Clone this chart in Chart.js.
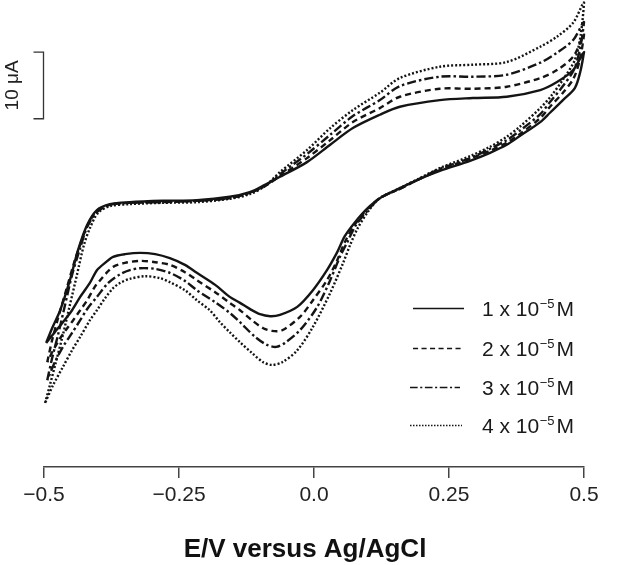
<!DOCTYPE html>
<html><head><meta charset="utf-8">
<script src="https://cdn.jsdelivr.net/npm/chart.js@4"></script>
<style>html,body{margin:0;padding:0;background:#fff}#wrap{width:622px;height:565px}</style>
</head><body><div id="wrap"><canvas id="c" width="622" height="565"></canvas></div>
<script>
// ---- data (E in V vs Ag/AgCl, I in µA, arbitrary offset) ----
const xTicks = [-0.5, -0.25, 0, 0.25, 0.5];
const xTickLabels = ['\u22120.5', '\u22120.25', '0.0', '0.25', '0.5'];
const concMantissa = ['1', '2', '3', '4'];
const concExponent = '\u22125';
const concUnit = 'M';
const scaleBarTop = 37.2;     // µA
const scaleBarSize = 10;      // µA

const E1 = [-0.496,-0.485,-0.470,-0.452,-0.437,-0.420,-0.402,-0.378,-0.341,-0.280,-0.217,-0.156,-0.119,-0.091,-0.063,-0.013,0.030,0.072,0.122,0.159,0.233,0.294,0.357,0.419,0.450,0.480,0.500,
  0.493,0.483,0.461,0.437,0.419,0.381,0.357,0.326,0.289,0.233,0.196,0.159,0.122,0.098,0.076,0.057,0.043,0.024,-0.002,-0.031,-0.063,-0.081,-0.100,-0.119,-0.137,-0.156,-0.183,-0.217,-0.239,-0.267,-0.294,-0.322,-0.350,-0.372,-0.387,-0.402,-0.415,-0.433,-0.448,-0.465,-0.480,-0.496];
const I1 = [-6.4,-4.2,-1.5,3.0,7.5,11.3,13.5,14.4,14.7,14.9,15.0,15.5,16.2,17.3,18.5,20.7,23.3,25.8,27.8,29.0,30.0,30.3,30.5,31.5,32.7,34.5,37.2,
  34.2,31.8,30.0,28.1,26.7,24.6,23.3,22.1,20.9,19.4,18.2,16.8,15.3,13.7,11.7,9.6,7.2,4.5,1.5,-1.0,-2.2,-2.4,-2.1,-1.3,-0.4,0.5,2.3,4.1,5.3,6.3,6.9,7.1,6.9,6.5,5.6,4.5,2.6,0.5,-1.5,-3.3,-4.8,-6.4];

const E2 = [-0.494,-0.485,-0.474,-0.459,-0.444,-0.433,-0.420,-0.402,-0.378,-0.341,-0.280,-0.217,-0.156,-0.119,-0.091,-0.063,-0.013,0.030,0.072,0.122,0.159,0.233,0.294,0.357,0.419,0.450,0.480,0.500,
  0.493,0.481,0.461,0.437,0.419,0.381,0.357,0.326,0.289,0.233,0.196,0.159,0.122,0.098,0.076,0.057,0.043,0.024,-0.002,-0.026,-0.059,-0.078,-0.094,-0.115,-0.137,-0.156,-0.183,-0.217,-0.239,-0.267,-0.294,-0.322,-0.350,-0.372,-0.383,-0.396,-0.406,-0.420,-0.433,-0.446,-0.457,-0.470,-0.483,-0.494];
const I2 = [-9.3,-6.0,-2.7,1.5,5.7,8.3,11.1,13.4,14.3,14.6,14.7,14.9,15.3,16.1,17.1,18.6,21.3,24.0,26.7,28.8,30.5,31.7,31.7,32.0,33.3,34.5,36.5,39.8,
  36.3,33.3,31.1,29.0,27.3,24.9,23.6,22.4,21.2,19.5,18.2,16.7,15.3,13.6,11.4,8.7,6.0,3.0,0.0,-2.5,-4.5,-4.6,-4.2,-3.0,-1.5,-0.4,1.2,3.0,4.2,5.3,5.7,5.9,5.6,5.0,4.2,3.0,2.0,0.0,-1.5,-3.0,-4.2,-5.7,-7.5,-9.3];

const E3 = [-0.494,-0.485,-0.474,-0.461,-0.448,-0.433,-0.420,-0.402,-0.378,-0.341,-0.280,-0.217,-0.156,-0.119,-0.091,-0.063,-0.013,0.030,0.072,0.122,0.159,0.233,0.294,0.357,0.419,0.450,0.480,0.500,
  0.493,0.481,0.461,0.437,0.419,0.381,0.357,0.326,0.289,0.233,0.196,0.159,0.122,0.100,0.078,0.061,0.048,0.030,0.006,-0.026,-0.054,-0.070,-0.087,-0.109,-0.137,-0.156,-0.183,-0.217,-0.239,-0.267,-0.294,-0.322,-0.341,-0.359,-0.381,-0.402,-0.419,-0.433,-0.448,-0.465,-0.480,-0.494];
const I3 = [-12.0,-8.7,-5.2,-0.7,3.8,7.8,11.0,13.2,14.3,14.6,14.7,14.9,15.3,16.1,17.1,18.9,21.9,24.8,27.6,30.0,32.1,33.5,33.5,33.8,35.6,37.1,39.0,41.7,
  37.8,34.5,32.1,29.7,27.9,25.4,24.0,22.7,21.3,19.7,18.2,16.7,15.3,13.5,11.3,8.6,6.5,3.0,-1.0,-4.5,-6.4,-7.0,-6.7,-5.5,-3.3,-1.9,-0.3,1.5,2.9,4.1,4.7,4.8,4.5,3.9,2.6,0.5,-1.2,-3.0,-4.9,-7.0,-9.3,-12.0];

const E4 = [-0.498,-0.489,-0.478,-0.465,-0.452,-0.439,-0.426,-0.415,-0.400,-0.378,-0.341,-0.280,-0.217,-0.156,-0.119,-0.091,-0.063,-0.013,0.030,0.072,0.122,0.159,0.233,0.294,0.357,0.419,0.450,0.480,0.500,
  0.494,0.483,0.463,0.439,0.419,0.381,0.357,0.326,0.289,0.233,0.196,0.159,0.122,0.102,0.081,0.067,0.054,0.030,-0.002,-0.031,-0.059,-0.078,-0.094,-0.115,-0.137,-0.156,-0.174,-0.193,-0.217,-0.239,-0.267,-0.285,-0.313,-0.341,-0.359,-0.372,-0.387,-0.402,-0.415,-0.433,-0.448,-0.465,-0.483,-0.498];
const I4 = [-15.4,-12.7,-9.3,-5.2,-0.7,3.8,8.3,10.8,13.1,14.1,14.4,14.6,14.7,15.2,15.9,17.1,19.2,22.5,25.8,28.5,31.1,33.3,35.0,35.3,35.7,38.0,39.5,41.6,44.6,
  39.8,36.0,33.3,30.6,28.8,26.0,24.5,23.0,21.6,19.8,18.3,16.8,15.3,13.5,10.8,8.3,5.6,1.1,-4.0,-7.5,-9.3,-9.7,-9.3,-7.9,-6.3,-4.8,-3.3,-1.5,0.0,1.5,2.7,3.3,3.6,3.2,2.6,1.8,0.3,-1.5,-3.0,-5.5,-7.5,-10.0,-12.7,-15.4];

const seriesE = [E1, E2, E3, E4];
const seriesI = [I1, I2, I3, I4];
const dashes = [[], [6, 4], [9, 3, 2.5, 3], [2, 2]];

const FONT = "'Liberation Sans', Arial, Helvetica, sans-serif";
const INK = '#141414';

const datasets = seriesE.map((E, k) => ({
  label: concMantissa[k] + ' x 10\u207B\u2075 ' + concUnit,
  data: E.map((e, i) => ({x: e, y: seriesI[k][i]})),
  showLine: true,
  borderColor: INK,
  borderWidth: 2.4,
  borderDash: dashes[k],
  pointRadius: 0,
  tension: 0.3,
  fill: false,
  clip: 4
}));

const decorations = {
  id: 'decorations',
  afterDraw(chart) {
    const {ctx, scales: {x, y}, chartArea} = chart;
    ctx.save();
    // scale bar
    const bx = Math.round(x.getPixelForValue(-0.5)) - 0.5;
    const y1 = y.getPixelForValue(scaleBarTop);
    const y2 = y.getPixelForValue(scaleBarTop - scaleBarSize);
    ctx.strokeStyle = '#333'; ctx.lineWidth = 1.3;
    ctx.beginPath();
    ctx.moveTo(bx - 10, y1); ctx.lineTo(bx, y1); ctx.lineTo(bx, y2); ctx.lineTo(bx - 10, y2);
    ctx.stroke();
    ctx.fillStyle = '#222';
    ctx.font = '19px ' + FONT;
    ctx.textAlign = 'center'; ctx.textBaseline = 'middle';
    ctx.translate(bx - 31, (y1 + y2) / 2);
    ctx.rotate(-Math.PI / 2);
    ctx.fillText('10 \u03BCA', 0, 0);
    ctx.restore();

    // legend
    ctx.save();
    const rows = [308, 348, 387, 425];
    const lineX = [[413, 464], [413, 464], [410, 460], [410, 462]];
    chart.data.datasets.forEach((ds, k) => {
      const ry = rows[k];
      ctx.strokeStyle = INK; ctx.lineWidth = 1.5;
      ctx.setLineDash(k === 3 ? [1.5, 1.5] : ds.borderDash.map(v => v * 0.85));
      ctx.beginPath(); ctx.moveTo(lineX[k][0], ry + 0.5); ctx.lineTo(lineX[k][1], ry + 0.5); ctx.stroke();
      ctx.setLineDash([]);
      ctx.fillStyle = '#1a1a1a';
      ctx.textAlign = 'left'; ctx.textBaseline = 'alphabetic';
      ctx.font = '21px ' + FONT;
      let tx = 482;
      const base = ry + 7.5;
      const main = concMantissa[k] + ' x 10';
      ctx.fillText(main, tx, base);
      tx += ctx.measureText(main).width + 0.5;
      ctx.font = '13px ' + FONT;
      ctx.fillText(concExponent, tx, base - 8);
      tx += ctx.measureText(concExponent).width + 2;
      ctx.font = '21px ' + FONT;
      ctx.fillText(concUnit, tx, base);
    });
    ctx.restore();

    // axis title
    ctx.save();
    ctx.fillStyle = '#111';
    ctx.font = 'bold 26px ' + FONT;
    ctx.textAlign = 'center'; ctx.textBaseline = 'alphabetic';
    ctx.fillText('E/V versus Ag/AgCl', (chartArea.left + chartArea.right) / 2 - 9, 557);
    ctx.restore();
  }
};

new Chart(document.getElementById('c'), {
  type: 'scatter',
  data: {datasets},
  options: {
    responsive: false,
    animation: false,
    devicePixelRatio: 1,
    layout: {padding: {left: 44, right: 38, top: 0, bottom: 0}},
    plugins: {legend: {display: false}, tooltip: {enabled: false}, title: {display: false}},
    scales: {
      x: {
        type: 'linear', min: -0.5, max: 0.5,
        afterBuildTicks: s => { s.ticks = xTicks.map(v => ({value: v})); },
        afterFit: s => { s.height = 98; },
        ticks: {
          callback: (v, i) => xTickLabels[i],
          font: {family: FONT, size: 21}, color: '#222', padding: 5,
          maxRotation: 0, autoSkip: false
        },
        grid: {drawOnChartArea: false, drawTicks: true, tickLength: 11, color: '#444', lineWidth: 1.5},
        border: {display: true, color: '#444', width: 1.5}
      },
      y: {display: false, min: -25, max: 45}
    }
  },
  plugins: [decorations]
});
</script>
</body></html>
